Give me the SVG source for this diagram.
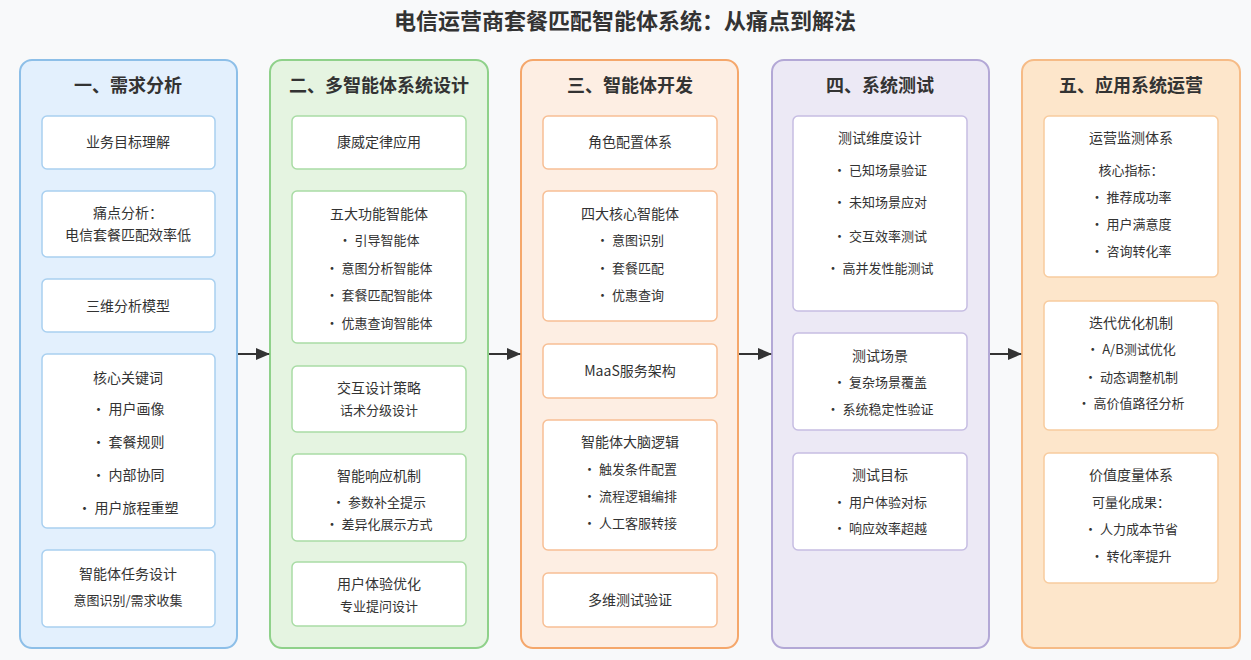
<svg xmlns="http://www.w3.org/2000/svg" width="1251" height="660" viewBox="0 0 1251 660">
<defs>
<style>
text{font-family:"Noto Sans CJK SC","Liberation Sans",sans-serif;fill:#333;stroke:none;text-anchor:middle}
.t{font-size:14px}
.h{font-size:18px;font-weight:bold}
.b{fill:#fff;stroke-width:1.5}
.c1{fill:#e3f0fd;stroke:#8dbfe8}.c1 .b{stroke:#a9d0f0}
.c2{fill:#e5f4e1;stroke:#8fd18a}.c2 .b{stroke:#a9dca5}
.c3{fill:#fdeee3;stroke:#f5a76b}.c3 .b{stroke:#f7bf95}
.c4{fill:#ece9f5;stroke:#b3a8d6}.c4 .b{stroke:#c6bde2}
.c5{fill:#fde6cb;stroke:#f6bb86}.c5 .b{stroke:#f8cc9f}
.col{stroke-width:2}
</style>
<marker id="ar" markerWidth="14" markerHeight="12" refX="13" refY="6" orient="auto" markerUnits="userSpaceOnUse"><path d="M0,0 L14,6 L0,12 z" fill="#333"/></marker>
</defs>
<rect width="1251" height="660" fill="#f8f9fa"/>
<text x="625" y="29" style="font-size:22px;font-weight:bold">电信运营商套餐匹配智能体系统：从痛点到解法</text>

<g id="col1" class="c1">
<rect class="col" x="20" y="60" width="217" height="588" rx="12"/>
<text class="h" x="128" y="92">一、需求分析</text>
<rect class="b" x="42" y="116" width="173" height="53" rx="5"/><text class="t" x="128" y="147">业务目标理解</text>
<rect class="b" x="42" y="191" width="173" height="66" rx="5"/><text class="t" x="128" y="218">痛点分析：</text><text class="t" x="128" y="240">电信套餐匹配效率低</text>
<rect class="b" x="42" y="279" width="173" height="53" rx="5"/><text class="t" x="128" y="311">三维分析模型</text>
<rect class="b" x="42" y="354" width="173" height="174" rx="5"/><text class="t" x="128" y="383">核心关键词</text><text class="t" x="128" y="414">• 用户画像</text><text class="t" x="128" y="447">• 套餐规则</text><text class="t" x="128" y="480">• 内部协同</text><text class="t" x="128" y="513">• 用户旅程重塑</text>
<rect class="b" x="42" y="550" width="173" height="77" rx="5"/><text class="t" x="128" y="579">智能体任务设计</text><text class="t" x="128" y="605" style="font-size:13px">意图识别/需求收集</text>
</g>

<g id="col2" class="c2">
<rect class="col" x="270" y="60" width="218" height="588" rx="12"/>
<text class="h" x="379" y="92">二、多智能体系统设计</text>
<rect class="b" x="292" y="116" width="174" height="53" rx="5"/><text class="t" x="379" y="147">康威定律应用</text>
<rect class="b" x="292" y="191" width="174" height="152" rx="5"/><text class="t" x="379" y="219">五大功能智能体</text><text class="t" x="379" y="245" style="font-size:13px">• 引导智能体</text><text class="t" x="379" y="273" style="font-size:13px">• 意图分析智能体</text><text class="t" x="379" y="300" style="font-size:13px">• 套餐匹配智能体</text><text class="t" x="379" y="328" style="font-size:13px">• 优惠查询智能体</text>
<rect class="b" x="292" y="366" width="174" height="66" rx="5"/><text class="t" x="379" y="393">交互设计策略</text><text class="t" x="379" y="415" style="font-size:13px">话术分级设计</text>
<rect class="b" x="292" y="454" width="174" height="87" rx="5"/><text class="t" x="379" y="481">智能响应机制</text><text class="t" x="379" y="507" style="font-size:13px">• 参数补全提示</text><text class="t" x="379" y="529" style="font-size:13px">• 差异化展示方式</text>
<rect class="b" x="292" y="562" width="174" height="64" rx="5"/><text class="t" x="379" y="589">用户体验优化</text><text class="t" x="379" y="611" style="font-size:13px">专业提问设计</text>
</g>

<g id="col3" class="c3">
<rect class="col" x="521" y="60" width="217" height="588" rx="12"/>
<text class="h" x="630" y="92">三、智能体开发</text>
<rect class="b" x="543" y="116" width="174" height="53" rx="5"/><text class="t" x="630" y="147">角色配置体系</text>
<rect class="b" x="543" y="191" width="174" height="130" rx="5"/><text class="t" x="630" y="219">四大核心智能体</text><text class="t" x="630" y="245" style="font-size:13px">• 意图识别</text><text class="t" x="630" y="273" style="font-size:13px">• 套餐匹配</text><text class="t" x="630" y="300" style="font-size:13px">• 优惠查询</text>
<rect class="b" x="543" y="344" width="174" height="54" rx="5"/><text class="t" x="630" y="376">MaaS服务架构</text>
<rect class="b" x="543" y="420" width="174" height="130" rx="5"/><text class="t" x="630" y="447">智能体大脑逻辑</text><text class="t" x="630" y="474" style="font-size:13px">• 触发条件配置</text><text class="t" x="630" y="501" style="font-size:13px">• 流程逻辑编排</text><text class="t" x="630" y="528" style="font-size:13px">• 人工客服转接</text>
<rect class="b" x="543" y="573" width="174" height="54" rx="5"/><text class="t" x="630" y="605">多维测试验证</text>
</g>

<g id="col4" class="c4">
<rect class="col" x="772" y="60" width="217" height="588" rx="12"/>
<text class="h" x="880" y="92">四、系统测试</text>
<rect class="b" x="793" y="116" width="174" height="195" rx="5"/><text class="t" x="880" y="143">测试维度设计</text><text class="t" x="880" y="175" style="font-size:13px">• 已知场景验证</text><text class="t" x="880" y="207" style="font-size:13px">• 未知场景应对</text><text class="t" x="880" y="241" style="font-size:13px">• 交互效率测试</text><text class="t" x="880" y="273" style="font-size:13px">• 高并发性能测试</text>
<rect class="b" x="793" y="333" width="174" height="97" rx="5"/><text class="t" x="880" y="361">测试场景</text><text class="t" x="880" y="387" style="font-size:13px">• 复杂场景覆盖</text><text class="t" x="880" y="414" style="font-size:13px">• 系统稳定性验证</text>
<rect class="b" x="793" y="453" width="174" height="97" rx="5"/><text class="t" x="880" y="480">测试目标</text><text class="t" x="880" y="507" style="font-size:13px">• 用户体验对标</text><text class="t" x="880" y="533" style="font-size:13px">• 响应效率超越</text>
</g>

<g id="col5" class="c5">
<rect class="col" x="1022" y="60" width="218" height="588" rx="12"/>
<text class="h" x="1131" y="92">五、应用系统运营</text>
<rect class="b" x="1044" y="116" width="174" height="161" rx="5"/><text class="t" x="1131" y="143">运营监测体系</text><text class="t" x="1131" y="175" style="font-size:13px">核心指标：</text><text class="t" x="1131" y="202" style="font-size:13px">• 推荐成功率</text><text class="t" x="1131" y="229" style="font-size:13px">• 用户满意度</text><text class="t" x="1131" y="256" style="font-size:13px">• 咨询转化率</text>
<rect class="b" x="1044" y="301" width="174" height="129" rx="5"/><text class="t" x="1131" y="328">迭代优化机制</text><text class="t" x="1131" y="354" style="font-size:13px">• A/B测试优化</text><text class="t" x="1131" y="382" style="font-size:13px">• 动态调整机制</text><text class="t" x="1131" y="408" style="font-size:13px">• 高价值路径分析</text>
<rect class="b" x="1044" y="453" width="174" height="130" rx="5"/><text class="t" x="1131" y="480">价值度量体系</text><text class="t" x="1131" y="507" style="font-size:13px">可量化成果：</text><text class="t" x="1131" y="534" style="font-size:13px">• 人力成本节省</text><text class="t" x="1131" y="561" style="font-size:13px">• 转化率提升</text>
</g>

<g id="connectors" stroke="#333" stroke-width="2" marker-end="url(#ar)">
<line x1="238" y1="354" x2="269" y2="354"/>
<line x1="489" y1="354" x2="520" y2="354"/>
<line x1="739" y1="354" x2="771" y2="354"/>
<line x1="990" y1="354" x2="1021" y2="354"/>
</g>
</svg>
